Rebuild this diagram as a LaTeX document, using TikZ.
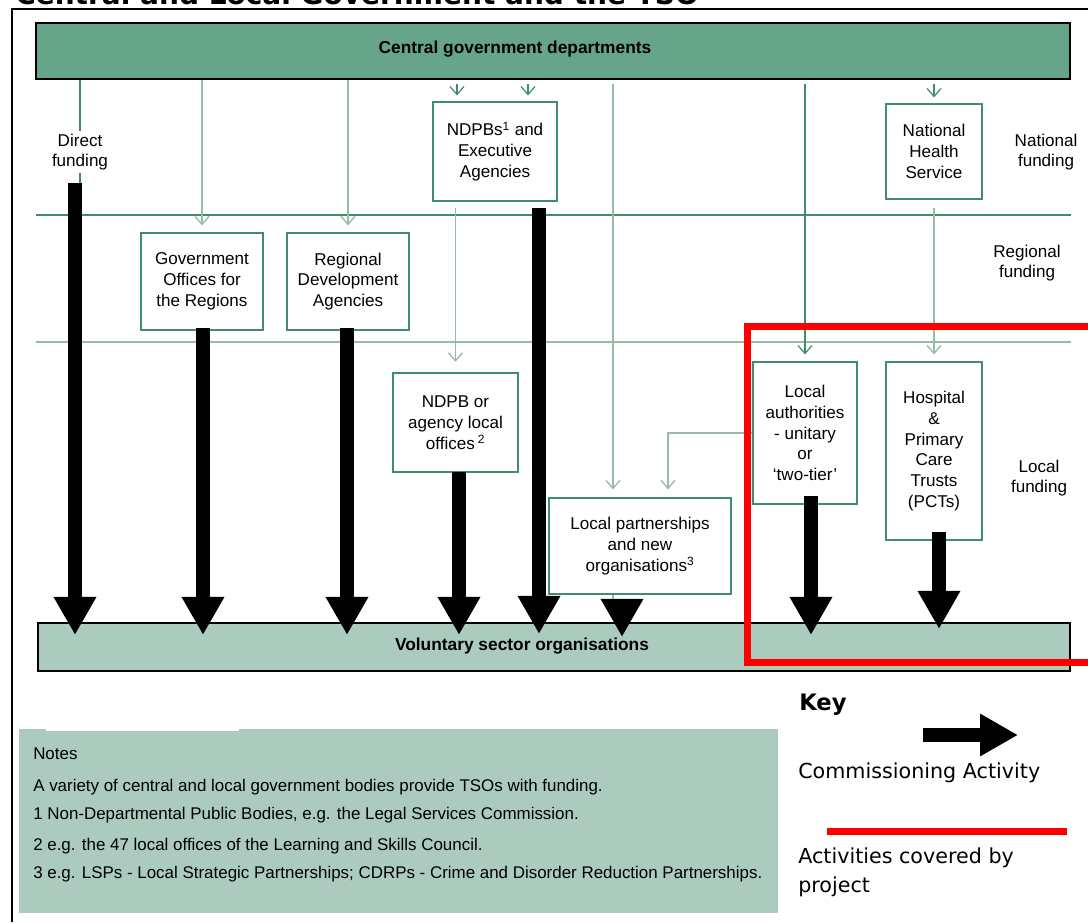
\documentclass[tikz,border=0pt]{standalone}
\usepackage{fontspec}
\setmainfont{Liberation Sans}
\newfontfamily\keyfont{DejaVu Sans}
\usetikzlibrary{arrows.meta,calc}
\definecolor{cgdfill}{RGB}{102,165,138}
\definecolor{vsofill}{RGB}{171,203,190}
\definecolor{dkgreen}{RGB}{62,142,108}
\definecolor{ltgreen}{RGB}{150,188,166}
\definecolor{keyred}{RGB}{255,0,0}
\begin{document}
\begin{tikzpicture}[x=0.75pt,y=-0.75pt,
  box/.style={draw=dkgreen,line width=0.9pt,fill=white,align=center,inner sep=0pt,font=\fontsize{12.8}{15.6}\selectfont},
  side/.style={align=center,font=\fontsize{12.8}{15}\selectfont},
  ldark/.style={draw=dkgreen,line width=0.9pt},
  llight/.style={draw=ltgreen,line width=1pt},
  barb/.style={-{Straight Barb[length=6pt,width=10.5pt]}},
  bigarrow/.style={line width=10.5pt,-{Triangle[length=28.5pt,width=30pt]}},
  bar/.style={draw=black,line width=1.6pt,inner sep=0pt},
  bartext/.style={font=\bfseries\fontsize{13}{15}\selectfont},
  notetext/.style={anchor=base west,inner sep=0pt,font=\fontsize{12.7}{15}\selectfont},
  keytext/.style={anchor=base west,inner sep=0pt,font=\keyfont\fontsize{15.5}{18}\selectfont},
  redline/.style={draw=keyred,line width=5.25pt}
]
\useasboundingbox (0,0) rectangle (1088,922);
\fill[white] (0,0) rectangle (1088,922);

% title (cut off by the page top, as in the original)
\node[anchor=base west,inner sep=0pt,font=\keyfont\bfseries\fontsize{21}{24}\selectfont] (title) at (15,4) {Central and Local Government and the TSO};

% frame
\draw[line width=2.2pt] (12,922) -- (12,9) -- (1090,9);

% bars
\node[bar,fill=cgdfill,minimum width=775.5pt,minimum height=42pt,
  label={[xshift=-28.5pt,yshift=1.5pt,bartext]center:Central government departments}] (cgd) at (553,51) {};
\node[bar,fill=vsofill,minimum width=774pt,minimum height=36pt,
  label={[xshift=-24pt,yshift=0.5pt,bartext]center:Voluntary sector organisations}] (vso) at (554,647) {};

% level lines
\draw[ldark] (36,215) -- (1071,215);
\draw[llight] (36,342) -- (1071,342);

% boxes
\node[box,minimum width=93pt,minimum height=74.25pt] (ndpbs) at (495,151.5) {NDPBs\textsuperscript{1} and\\Executive\\Agencies};
\node[box,minimum width=72pt,minimum height=71.25pt] (nhs) at (934,151.5) {National\\Health\\Service};
\node[box,minimum width=91.5pt,minimum height=72.75pt] (gov) at (202,281.5) {Government\\Offices for\\the Regions};
\node[box,minimum width=91.5pt,minimum height=72.75pt] (rda) at (348,281.5) {Regional\\Development\\Agencies};
\node[box,minimum width=93.75pt,minimum height=74.25pt] (ndpbl) at (455.5,422.5) {NDPB or\\agency local\\offices\,\textsuperscript{2}};
\node[box,minimum width=78pt,minimum height=106.5pt] (lauth) at (805,433) {Local\\authorities\\- unitary\\or\\`two-tier'};
\node[box,minimum width=72pt,minimum height=133.5pt] (hosp) at (934,451) {Hospital\\\&\\Primary\\Care\\Trusts\\(PCTs)};
\node[box,minimum width=136.5pt,minimum height=72pt] (lpart) at (640,546) {Local partnerships\\and new\\organisations\textsuperscript{3}};

% side labels
\node[side] (natf) at (1046,152) {National\\funding};
\node[side] (regf) at (1027,263) {Regional\\funding};
\node[side] (locf) at (1039,478) {Local\\funding};

% direct funding
\coordinate (dtop) at (80,183);
\coordinate (dshaft) at (75,183);
\draw[ldark] (cgd.south -| dtop) -- (dtop);
\node[side,fill=white,inner sep=2pt] (direct) at (80,152) {Direct\\funding};

% thin connectors
\draw[llight,barb,shorten >=5.25pt] (cgd.south -| gov.north) -- (gov.north);
\draw[llight,barb,shorten >=5.25pt] (cgd.south -| rda.north) -- (rda.north);
\coordinate (na) at ($(ndpbs.north)+(-38,0)$);
\coordinate (nb) at ($(ndpbs.north)+(33,0)$);
\draw[ldark,barb,shorten >=4.5pt,shorten <=3pt] (cgd.south -| na) -- (na);
\draw[ldark,barb,shorten >=4.5pt,shorten <=3pt] (cgd.south -| nb) -- (nb);
\draw[ldark,barb,shorten >=4.5pt,shorten <=3pt] (cgd.south -| nhs.north) -- (nhs.north);
\coordinate (la) at ($(lpart.north)+(-27,0)$);
\draw[llight,barb,shorten >=6pt,shorten <=3pt] (cgd.south -| la) -- (la);
\draw[llight] (lpart.south -| la) -- ++(0,9);
\draw[ldark,barb,shorten >=5.25pt,shorten <=3pt] (cgd.south -| lauth.north) -- (lauth.north);
\draw[llight,barb,shorten <=4.5pt,shorten >=8pt] (ndpbs.south -| ndpbl.north) -- (ndpbl.north);
\draw[llight,barb,shorten <=6pt,shorten >=5.25pt] (nhs.south) -- (hosp.north);
\coordinate (lb) at ($(lpart.north)+(28,0)$);
\draw[llight,barb,shorten >=6pt] (lauth.west) -| (lb);

% commissioning arrows
\draw[bigarrow] (dshaft) -- ($(dshaft |- vso.north)+(0,13)$);
\draw[bigarrow] ($(gov.south)+(1,-3)$) -- ($(gov.south |- vso.north)+(1,13)$);
\draw[bigarrow] ($(rda.south)+(-1,-3)$) -- ($(rda.south |- vso.north)+(-1,13)$);
\draw[bigarrow] ($(ndpbl.south)+(3.5,-1)$) -- ($(ndpbl.south |- vso.north)+(3.5,13)$);
\draw[bigarrow] ($(ndpbs.south)+(44,6)$) -- ($(ndpbs.south |- vso.north)+(44,12)$);
\draw[bigarrow] ($(lpart.south)+(-18,8)$) -- ($(lpart.south |- vso.north)+(-18,15)$);
\draw[bigarrow] ($(lauth.south)+(6,-9)$) -- ($(lauth.south |- vso.north)+(6,13)$);
\draw[bigarrow] ($(hosp.south)+(5,-9)$) -- ($(hosp.south |- vso.north)+(5,7)$);

% project boundary
\draw[redline] (1100,326) -- (747,326) -- (747,662) -- (1100,662);

% notes
\fill[vsofill] (19,729) rectangle (778,913);
\fill[white] (46,700) rectangle (239,731);
\node[notetext] (n0) at (33,759) {Notes};
\node[notetext] (n1) at (33,791) {A variety of central and local government bodies provide TSOs with funding.};
\node[notetext] (n2) at (33,819) {1 Non-Departmental Public Bodies, e.g. the Legal Services Commission.};
\node[notetext] (n3) at (33,850) {2 e.g. the 47 local offices of the Learning and Skills Council.};
\node[notetext] (n4) at (33,878) {3 e.g. LSPs - Local Strategic Partnerships; CDRPs - Crime and Disorder Reduction Partnerships.};

% key
\node[anchor=base west,inner sep=0pt,font=\keyfont\bfseries\fontsize{17}{20}\selectfont] (key) at (799,710) {Key};
\coordinate (k1) at (923,735);
\coordinate (k2) at (1018,735);
\draw[bigarrow] (k1) -- (k2);
\node[keytext] (kc) at (798,778) {Commissioning Activity};
\coordinate (r1) at (827,831);
\coordinate (r2) at (1067,831);
\draw[redline] (r1) -- (r2);
\node[keytext] (ka) at (798,863) {Activities covered by};
\node[keytext] (kp) at (798,892) {project};
\end{tikzpicture}
\end{document}
